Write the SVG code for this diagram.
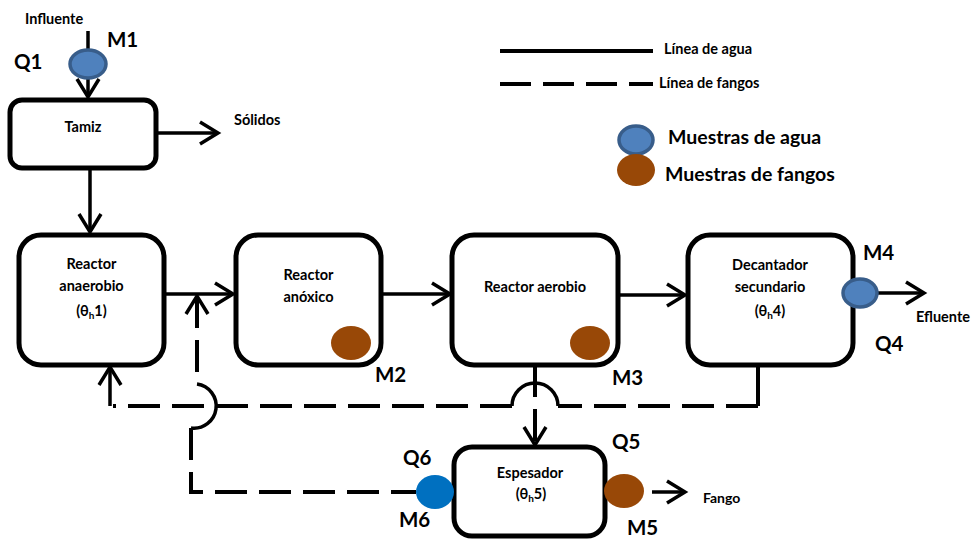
<svg xmlns="http://www.w3.org/2000/svg" width="973" height="541" viewBox="0 0 973 541">
  <style>
    .box { fill: #ffffff; stroke: #000000; stroke-width: 5; }
    .t { font-family: Lato, "Liberation Sans", sans-serif; font-weight: bold; fill: #000000; }
    .node { font-size: 14.5px; text-anchor: middle; }
    .small { font-size: 14.5px; }
    .lbl { font-size: 20.5px; }
    .big { font-size: 19.5px; }
    .water-line { fill: none; stroke: #000000; stroke-width: 3.5; }
    .sludge-line { fill: none; stroke: #000000; stroke-width: 4; stroke-dasharray: 32 12; }
    .hop { fill: none; stroke: #000000; stroke-width: 3.5; }
    .water { fill: #4F81BD; stroke: #385D8A; stroke-width: 3.5; }
    .sludge { fill: #984807; }
    .sludge-out { fill: #0070C0; }
  </style>
  <defs>
    <marker id="arrow" viewBox="-22 -14 26 28" refX="0" refY="0" markerWidth="26" markerHeight="28" markerUnits="userSpaceOnUse" orient="auto-start-reverse">
      <path d="M-18,-11 L0,0 L-18,11" fill="none" stroke="#000000" stroke-width="3.5" stroke-dasharray="none" stroke-linejoin="miter"/>
    </marker>
  </defs>

  <!-- legend -->
  <g id="legend">
    <line x1="500" y1="51" x2="653" y2="51" stroke="#000" stroke-width="4"/>
    <text class="t small" x="664" y="54">Línea de agua</text>
    <line x1="500" y1="84" x2="653" y2="84" stroke="#000" stroke-width="4" stroke-dasharray="31 12"/>
    <text class="t small" x="659" y="88">Línea de fangos</text>
    <ellipse class="water" cx="636" cy="140" rx="17" ry="14"/>
    <text class="t big" x="668" y="144">Muestras de agua</text>
    <ellipse class="sludge" cx="636" cy="170" rx="19" ry="16"/>
    <text class="t big" x="665" y="181">Muestras de fangos</text>
  </g>

  <!-- connectors -->
  <g id="connectors">
    <!-- water line -->
    <path class="water-line" d="M88,31 V97" marker-end="url(#arrow)"/>
    <path class="water-line" d="M158,133 H218" marker-end="url(#arrow)"/>
    <path class="water-line" d="M90,170 V232" marker-end="url(#arrow)"/>
    <path class="water-line" d="M166,294 H233" marker-end="url(#arrow)"/>
    <path class="water-line" d="M383,294 H450" marker-end="url(#arrow)"/>
    <path class="water-line" d="M620,295 H685" marker-end="url(#arrow)"/>
    <path class="water-line" d="M870,293 H924" marker-end="url(#arrow)"/>
    <path class="water-line" d="M652,492 H685" marker-end="url(#arrow)"/>
    <!-- sludge recirculation from the settler, hopping over the excess-sludge line -->
    <line x1="758" y1="367" x2="758" y2="406" stroke="#000" stroke-width="4"/>
    <path class="sludge-line" d="M758,406 H558"/>
    <path class="hop" d="M558,406 A23,23 0 0 0 512,406"/>
    <path class="sludge-line" d="M512,406 H113"/>
    <path class="water-line" d="M110,406 V367" stroke-width="4" marker-end="url(#arrow)"/>
    <!-- excess sludge to thickener -->
    <path class="sludge-line" d="M535,365 V445" marker-end="url(#arrow)"/>
    <!-- thickener return, hopping over the recirculation line -->
    <path class="sludge-line" d="M197,296 V384" marker-start="url(#arrow)"/>
    <path class="hop" d="M197,384 A22,22 0 0 1 191,428"/>
    <path class="sludge-line" d="M191,428 V492 H416"/>
  </g>

  <!-- influent -->
  <g id="influente">
    <text class="t small" x="25" y="24">Influente</text>
    <ellipse class="water" cx="88" cy="64" rx="18" ry="14"/>
    <text class="t lbl" x="107" y="47">M1</text>
    <text class="t lbl" x="14" y="69">Q1</text>
  </g>

  <g id="tamiz">
    <rect class="box" x="10" y="100" width="146" height="68" rx="12"/>
    <text class="t node" x="83" y="132">Tamiz</text>
  </g>

  <g id="solidos">
    <text class="t small" x="234" y="125">Sólidos</text>
  </g>

  <g id="reactor-anaerobio">
    <rect class="box" x="19" y="235" width="145" height="130" rx="22"/>
    <text class="t node" x="91.5" y="269">Reactor</text>
    <text class="t node" x="91.5" y="291">anaerobio</text>
    <text class="t node" x="91.5" y="316">(θ<tspan font-size="10" dy="3">h</tspan><tspan dy="-3">1)</tspan></text>
  </g>

  <g id="reactor-anoxico">
    <rect class="box" x="236" y="235" width="145" height="130" rx="22"/>
    <text class="t node" x="308.5" y="280">Reactor</text>
    <text class="t node" x="308.5" y="302">anóxico</text>
    <ellipse class="sludge" cx="351" cy="343" rx="20" ry="17"/>
    <text class="t lbl" x="375" y="382">M2</text>
  </g>

  <g id="reactor-aerobio">
    <rect class="box" x="452" y="235" width="166" height="130" rx="22"/>
    <text class="t node" x="535" y="292">Reactor aerobio</text>
    <ellipse class="sludge" cx="590" cy="343" rx="20" ry="17"/>
    <text class="t lbl" x="612" y="385">M3</text>
  </g>

  <g id="decantador">
    <rect class="box" x="688" y="235" width="165" height="130" rx="22"/>
    <text class="t node" x="770" y="270">Decantador</text>
    <text class="t node" x="770" y="292">secundario</text>
    <text class="t node" x="770" y="316">(θ<tspan font-size="10" dy="3">h</tspan><tspan dy="-3">4)</tspan></text>
    <ellipse class="water" cx="860" cy="293" rx="17" ry="14"/>
    <text class="t lbl" x="863" y="260">M4</text>
    <text class="t lbl" x="875" y="351">Q4</text>
  </g>

  <g id="efluente">
    <text class="t small" x="916" y="322">Efluente</text>
  </g>

  <g id="espesador">
    <rect class="box" x="454" y="447" width="151" height="89" rx="18"/>
    <text class="t node" x="530" y="478">Espesador</text>
    <text class="t node" x="531" y="499">(θ<tspan font-size="10" dy="3">h</tspan><tspan dy="-3">5)</tspan></text>
    <ellipse class="sludge-out" cx="435" cy="492" rx="19" ry="17"/>
    <text class="t lbl" x="403" y="465">Q6</text>
    <text class="t lbl" x="399" y="527">M6</text>
    <ellipse class="sludge" cx="624" cy="491" rx="20" ry="17"/>
    <text class="t lbl" x="612" y="449">Q5</text>
    <text class="t lbl" x="627" y="535">M5</text>
  </g>

  <g id="fango">
    <text class="t" font-size="14" x="703" y="503">Fango</text>
  </g>
</svg>
